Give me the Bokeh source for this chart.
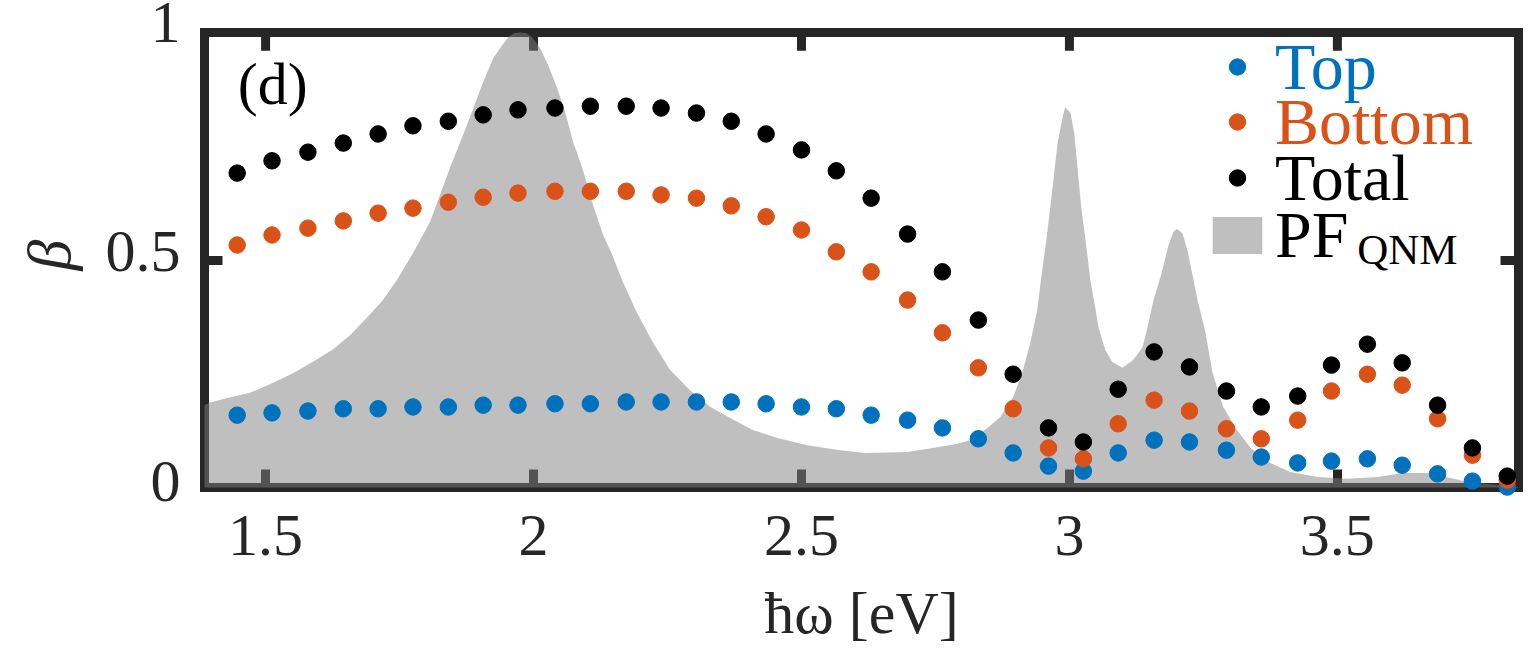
from bokeh.embed import file_html
from bokeh.models import FixedTicker, Label, Legend, LegendItem, LinearAxis, Range1d, Span
from bokeh.plotting import figure
from bokeh.resources import INLINE

energy = [1.447, 1.512, 1.579, 1.645, 1.710, 1.775, 1.841, 1.906, 1.971, 2.040, 2.106, 2.173, 2.238,
          2.304, 2.369, 2.434, 2.500, 2.565, 2.630, 2.698, 2.763, 2.830, 2.895, 2.961, 3.026, 3.091,
          3.158, 3.224, 3.293, 3.358, 3.426, 3.489, 3.556, 3.621, 3.687, 3.752, 3.817]
top = [.159, .164, .168, .173, .173, .177, .177, .181, .181, .184, .184, .188, .188,
       .188, .188, .184, .177, .173, .159, .148, .131, .107, .076, .047, .036, .076,
       .104, .100, .082, .067, .054, .058, .063, .049, .030, .014, .001]
bottom = [.533, .555, .570, .586, .603, .614, .627, .638, .647, .651, .651, .651, .643,
          .636, .619, .595, .566, .518, .474, .412, .340, .263, .173, .087, .063, .140,
          .192, .168, .129, .107, .148, .212, .249, .225, .151, .071, .016]
total = [.691, .718, .737, .757, .777, .795, .805, .819, .830, .834, .838, .838, .834,
         .823, .805, .777, .742, .696, .636, .557, .474, .368, .249, .131, .100, .216,
         .298, .265, .212, .177, .201, .269, .315, .274, .181, .087, .025]

pf_x = [1.386, 1.395, 1.423, 1.471, 1.508, 1.553, 1.594, 1.626, 1.658, 1.689, 1.719, 1.745, 1.773,
        1.807, 1.844, 1.876, 1.906, 1.925, 1.938, 1.953, 1.964, 1.975, 1.986, 1.997, 2.012, 2.027,
        2.044, 2.059, 2.074, 2.091, 2.111, 2.130, 2.147, 2.165, 2.193, 2.223, 2.255, 2.292, 2.330,
        2.367, 2.410, 2.455, 2.511, 2.572, 2.619, 2.697, 2.737, 2.791, 2.815, 2.847, 2.871, 2.895,
        2.912, 2.927, 2.940, 2.946, 2.957, 2.968, 2.978, 2.987, 2.992, 3.002, 3.009, 3.015, 3.022,
        3.030, 3.039, 3.049, 3.054, 3.067, 3.080, 3.099, 3.119, 3.136, 3.145, 3.157, 3.172, 3.185,
        3.194, 3.201, 3.211, 3.220, 3.229, 3.239, 3.254, 3.267, 3.287, 3.313, 3.338, 3.375, 3.412,
        3.463, 3.519, 3.575, 3.623, 3.668, 3.717, 3.743, 3.838]
pf = [.181, .186, .195, .208, .227, .252, .280, .304, .335, .373, .412, .456, .511,
      .584, .702, .797, .891, .944, .966, .990, .999, 1.0, .999, .990, .966, .929,
      .878, .825, .759, .702, .621, .555, .511, .456, .384, .318, .258, .214, .177,
      .153, .126, .109, .093, .082, .076, .078, .085, .096, .104, .131, .155, .199,
      .252, .318, .390, .449, .544, .654, .757, .812, .836, .823, .779, .704, .616,
      .544, .456, .390, .353, .302, .276, .263, .280, .307, .348, .412, .471, .533,
      .562, .568, .559, .522, .471, .412, .340, .252, .177, .126, .087, .054, .034,
      .023, .019, .023, .032, .032, .019, .012, .001]
pf_base = [0] * len(pf_x)

x_ticks = [1.5, 2, 2.5, 3, 3.5]
x_tick_labels = ["1.5", "2", "2.5", "3", "3.5"]
y_ticks = [0, 0.5, 1]
y_tick_labels = ["0", "0.5", "1"]

FRAME = "#262626"
BLUE = "#0072BD"
ORANGE = "#D95319"
FONT = "Liberation Serif"

# the frame reaches 10px above beta=1: the "1" label stands higher than the box top
p = figure(width=1532, height=659, frame_width=1314, frame_height=465,
           x_range=(1.386, 3.838), y_range=(0, 1.022),
           min_border_left=204, min_border_right=14, min_border_top=22, min_border_bottom=172,
           output_backend="svg", toolbar_location=None, x_axis_location=None, y_axis_location=None)
p.grid.visible = False
p.outline_line_color = None
# the y tick labels sit a little above their ticks: they get an axis of their own on a shifted range
p.extra_y_ranges = {"labels": Range1d(-0.0131, 1.0)}


def box_axis(side, ticks, labels):
    axis = LinearAxis(ticker=FixedTicker(ticks=ticks),
                      major_label_overrides=dict(zip(ticks, labels)))
    axis.axis_line_color = FRAME
    axis.axis_line_width = 9
    axis.axis_line_cap = "square"
    axis.major_tick_line_color = FRAME
    axis.major_tick_line_width = 9
    axis.major_tick_in = 18
    axis.major_tick_out = 0
    axis.minor_tick_line_color = None
    axis.major_label_text_font = FONT
    axis.major_label_text_font_size = "60px"
    axis.major_label_text_color = FRAME
    p.add_layout(axis, side)
    return axis


xaxis = box_axis("below", x_ticks, x_tick_labels)
left = box_axis("left", y_ticks, [""] * len(y_ticks))
left.major_label_text_font_size = "1px"
left.bounds = (0, 1)
right = box_axis("right", y_ticks, [""] * len(y_ticks))
right.major_label_text_font_size = "1px"
right.bounds = (0, 1)

# top side of the box
p.add_layout(Span(location=1, dimension="width", line_color=FRAME, line_width=9, level="guide"))
p.segment(x_ticks, [1] * len(x_ticks), x_ticks, [0.96] * len(x_ticks), line_color=FRAME, line_width=9)

yaxis = LinearAxis(y_range_name="labels", ticker=FixedTicker(ticks=y_ticks),
                   major_label_overrides=dict(zip(y_ticks, y_tick_labels)))
yaxis.axis_line_color = None
yaxis.major_tick_line_color = None
yaxis.minor_tick_line_color = None
yaxis.major_tick_in = 0
yaxis.major_tick_out = 0
yaxis.major_label_text_font = FONT
yaxis.major_label_text_font_size = "60px"
yaxis.major_label_text_color = FRAME
yaxis.major_label_standoff = 24
p.add_layout(yaxis, "left")

xaxis.major_label_standoff = 28
xaxis.axis_label = "ħω [eV]"
xaxis.axis_label_text_font = FONT
xaxis.axis_label_text_font_style = "normal"
xaxis.axis_label_text_font_size = "60px"
xaxis.axis_label_text_color = FRAME
xaxis.axis_label_standoff = 22

yaxis.axis_label = "β"
yaxis.axis_label_text_font = FONT
yaxis.axis_label_text_font_style = "italic"
yaxis.axis_label_text_font_size = "62px"
yaxis.axis_label_text_color = FRAME
yaxis.axis_label_standoff = 20

# the grey area lies over the box, as in the original
area = p.varea(x=pf_x, y1=pf_base, y2=pf, fill_color="#808080", fill_alpha=0.5, level="annotation")
r_top = p.scatter(energy, top, marker="circle", size=16.5, color=BLUE, level="annotation")
r_bottom = p.scatter(energy, bottom, marker="circle", size=16.5, color=ORANGE, level="annotation")
r_total = p.scatter(energy, total, marker="circle", size=16.5, color="black", level="annotation")


def add_legend(name, renderer, color, cy, left, glyph_w, glyph_h, standoff):
    # one legend per row, the text colour differs from row to row
    row_h = 74
    leg = Legend(items=[LegendItem(label=name, renderers=[renderer])],
                 location=(left, 487.5 - cy - row_h / 2),
                 margin=0, padding=0, spacing=0, border_line_color=None, background_fill_color=None,
                 glyph_width=glyph_w, glyph_height=glyph_h, label_standoff=standoff, label_height=row_h,
                 label_text_font=FONT, label_text_font_size="66px", label_text_color=color)
    p.add_layout(leg, "center")


add_legend("Top", r_top, BLUE, 68, 1008, 50, 41, 13)
add_legend("Bottom", r_bottom, ORANGE, 123, 1008, 50, 41, 13)
add_legend("Total", r_total, "black", 179, 1008, 50, 41, 13)
add_legend("PF", area, "black", 236, 1002, 62, 46, 7)

p.add_layout(Label(x=3.537, y=0.522, text="QNM", text_font=FONT, text_font_size="43px", text_color="black",
                   text_baseline="middle"))
p.add_layout(Label(x=1.448, y=0.886, text="(d)", text_font=FONT, text_font_size="60px", text_color="black",
                   text_baseline="middle"))

open("out.html", "w").write(file_html(p, INLINE))
